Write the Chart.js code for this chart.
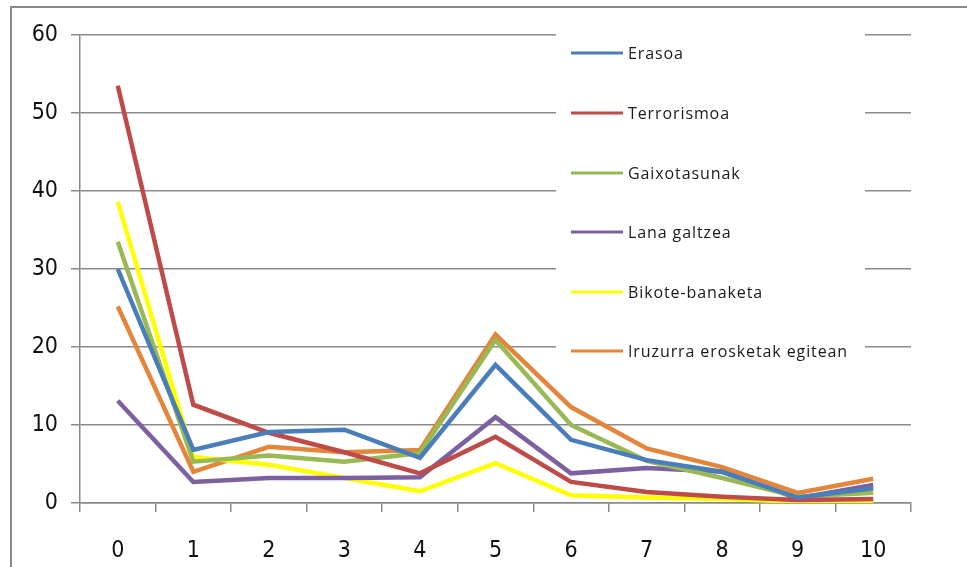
<!DOCTYPE html>
<html>
<head>
<meta charset="utf-8">
<script src="https://cdn.jsdelivr.net/npm/chart.js@4/dist/chart.umd.min.js"></script>
<style>
  html, body { margin: 0; padding: 0; background: #fff; }
  #wrap { position: absolute; left: 0; top: 0; width: 967px; height: 567px; }
</style>
</head>
<body>
<div id="wrap"><canvas id="c" width="967" height="567"></canvas></div>
<script>
const categories = ['0','1','2','3','4','5','6','7','8','9','10'];
const seriesNames = ['Erasoa','Terrorismoa','Gaixotasunak','Lana galtzea','Bikote-banaketa','Iruzurra erosketak egitean'];
const erasoa       = [30.0, 6.8, 9.1, 9.4, 5.8, 17.7, 8.1, 5.5, 4.0, 0.7, 1.9];
const terrorismoa  = [53.5, 12.6, 9.0, 6.5, 3.8, 8.5, 2.7, 1.4, 0.8, 0.4, 0.5];
const gaixotasunak = [33.5, 5.3, 6.1, 5.3, 6.4, 20.9, 10.0, 5.4, 3.2, 0.8, 1.3];
const lanaGaltzea  = [13.1, 2.7, 3.2, 3.2, 3.3, 11.0, 3.8, 4.5, 4.0, 0.6, 2.3];
const bikote       = [38.6, 5.9, 4.9, 3.2, 1.5, 5.1, 1.0, 0.7, 0.5, 0.2, 0.25];
const iruzurra     = [25.2, 4.0, 7.2, 6.5, 6.8, 21.6, 12.3, 7.0, 4.6, 1.3, 3.1];
const yTicks = [0, 10, 20, 30, 40, 50, 60];

const colors = ['#4A7EBB', '#BE4B48', '#98B954', '#7D60A0', '#FFFF00', '#E4853A'];
const seriesData = [erasoa, terrorismoa, gaixotasunak, lanaGaltzea, bikote, iruzurra];

const tickFont = { family: "'Liberation Sans Narrow', 'DejaVu Sans Condensed', 'Liberation Sans', sans-serif", size: 23 };
const legendFont = "16px 'Open Sans', 'Liberation Sans', sans-serif";

const framePlugin = {
  id: 'frame',
  beforeDatasetsDraw(chart) {
    const ctx = chart.ctx;
    ctx.save();
    ctx.fillStyle = '#ffffff';
    ctx.fillRect(556, 30, 865 - 556, 380 - 30);
    ctx.restore();
  },
  afterDraw(chart) {
    const ctx = chart.ctx;
    ctx.save();
    ctx.strokeStyle = '#8a8a8a';
    ctx.lineWidth = 2;
    ctx.beginPath();
    ctx.moveTo(11, 567);
    ctx.lineTo(11, 7);
    ctx.lineTo(967, 7);
    ctx.stroke();
    const ys = [53, 113, 173, 232, 292, 351];
    chart.data.datasets.forEach((ds, i) => {
      const y = ys[i];
      ctx.strokeStyle = ds.borderColor;
      ctx.lineWidth = 3;
      ctx.beginPath();
      ctx.moveTo(571, y);
      ctx.lineTo(623, y);
      ctx.stroke();
      ctx.fillStyle = '#1a1a1a';
      ctx.font = legendFont;
      if ('letterSpacing' in ctx) ctx.letterSpacing = '0.9px';
      ctx.textBaseline = 'middle';
      ctx.textAlign = 'left';
      ctx.fillText(ds.label, 628, y + 1);
    });
    ctx.restore();
  }
};

new Chart(document.getElementById('c'), {
  type: 'line',
  data: {
    labels: categories,
    datasets: seriesNames.map((name, i) => ({
      label: name,
      data: seriesData[i],
      borderColor: colors[i],
      backgroundColor: colors[i],
      borderWidth: 4.5,
      pointRadius: 0,
      tension: 0,
      fill: false
    }))
  },
  options: {
    responsive: false,
    animation: false,
    devicePixelRatio: 1,
    layout: { padding: { left: 0, top: 35, right: 56, bottom: 0 } },
    plugins: { legend: { display: false }, tooltip: { enabled: false } },
    scales: {
      x: {
        type: 'category',
        offset: true,
        grid: { display: true, drawOnChartArea: false, drawTicks: true, tickLength: 9, offset: true, color: '#8a8a8a', lineWidth: 1.5 },
        border: { display: true, color: '#8a8a8a', width: 1.5 },
        ticks: { color: '#111', font: tickFont, padding: 25, maxRotation: 0, autoSkip: false },
        afterFit(scale) { scale.height = 64; }
      },
      y: {
        min: 0, max: 60,
        afterBuildTicks(scale) { scale.ticks = yTicks.map(v => ({ value: v })); },
        grid: { color: '#8a8a8a', lineWidth: 1.5, drawTicks: true, tickLength: 9 },
        border: { display: true, color: '#8a8a8a', width: 1.5 },
        ticks: { color: '#111', font: tickFont, padding: 13 },
        afterFit(scale) { scale.width = 80; }
      }
    }
  },
  plugins: [framePlugin]
});
</script>
</body>
</html>
